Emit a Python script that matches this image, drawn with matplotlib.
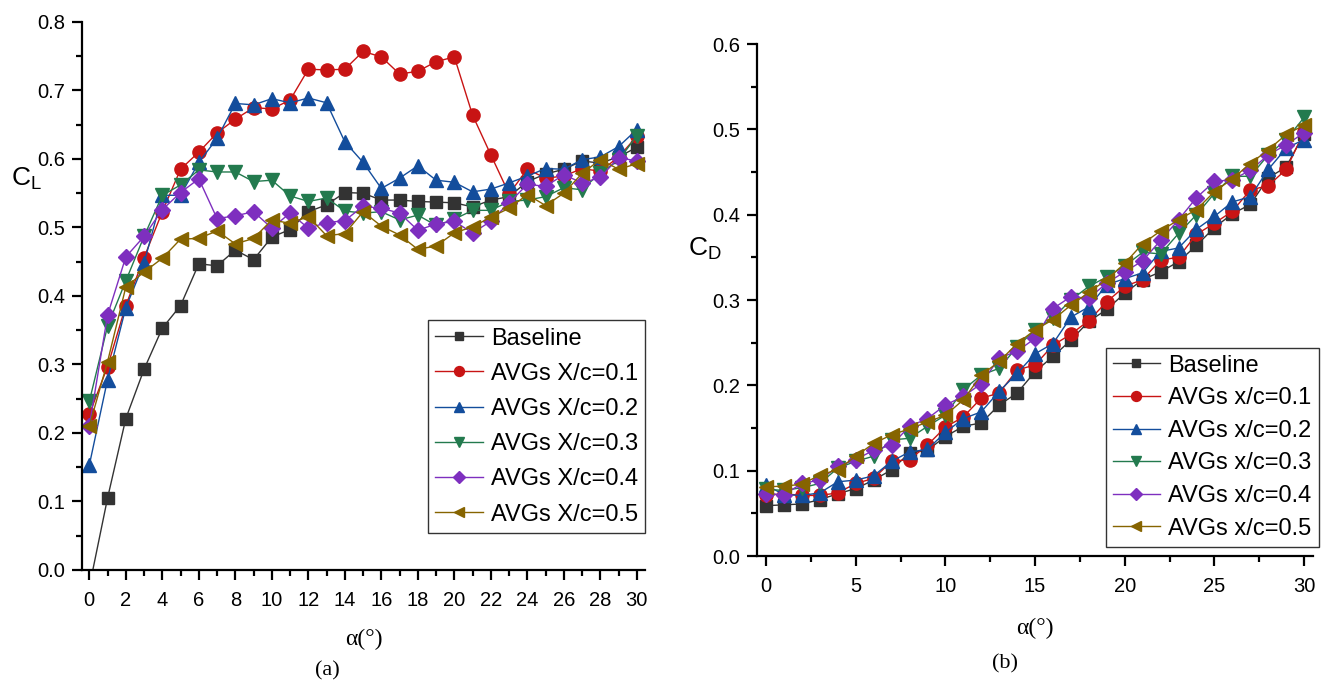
import matplotlib
matplotlib.use("Agg")
import matplotlib.pyplot as plt
from matplotlib.ticker import MultipleLocator

plt.rcParams['font.family'] = ['Liberation Sans', 'DejaVu Sans']
plt.rcParams['mathtext.fontset'] = 'custom'
plt.rcParams['mathtext.rm'] = 'Liberation Sans'
plt.rcParams['mathtext.it'] = 'Liberation Sans:italic'

# angle of attack, degrees
alpha = list(range(31))

# (a) lift coefficient
cl_base = [-0.025, 0.105, 0.221, 0.293, 0.353, 0.386, 0.447, 0.444, 0.467, 0.453,
           0.486, 0.497, 0.523, 0.533, 0.551, 0.550, 0.540, 0.540, 0.538, 0.537,
           0.536, 0.530, 0.540, 0.545, 0.567, 0.578, 0.585, 0.597, 0.594, 0.603, 0.617]
cl_01 = [0.227, 0.297, 0.386, 0.456, 0.523, 0.585, 0.610, 0.638, 0.658, 0.675,
         0.673, 0.686, 0.731, 0.730, 0.731, 0.757, 0.749, 0.724, 0.728, 0.742,
         0.749, 0.664, 0.606, 0.549, 0.585, 0.572, 0.575, 0.586, 0.582, 0.603, 0.633]
cl_02 = [0.153, 0.278, 0.383, 0.448, 0.547, 0.547, 0.595, 0.630, 0.681, 0.679,
         0.688, 0.682, 0.689, 0.682, 0.625, 0.595, 0.557, 0.572, 0.590, 0.569,
         0.566, 0.552, 0.556, 0.565, 0.575, 0.586, 0.585, 0.599, 0.603, 0.618, 0.643]
cl_03 = [0.246, 0.356, 0.422, 0.487, 0.547, 0.562, 0.584, 0.581, 0.581, 0.567,
         0.569, 0.546, 0.538, 0.543, 0.524, 0.521, 0.523, 0.511, 0.518, 0.503,
         0.512, 0.525, 0.525, 0.538, 0.540, 0.545, 0.558, 0.555, 0.580, 0.598, 0.634]
cl_04 = [0.210, 0.372, 0.457, 0.487, 0.526, 0.551, 0.571, 0.513, 0.517, 0.523,
         0.499, 0.521, 0.499, 0.507, 0.510, 0.531, 0.528, 0.521, 0.496, 0.505,
         0.509, 0.492, 0.509, 0.536, 0.563, 0.560, 0.577, 0.565, 0.573, 0.602, 0.597]
cl_05 = [0.210, 0.304, 0.413, 0.435, 0.455, 0.483, 0.484, 0.495, 0.476, 0.484,
         0.511, 0.506, 0.516, 0.488, 0.491, 0.523, 0.502, 0.489, 0.468, 0.473,
         0.492, 0.501, 0.515, 0.528, 0.548, 0.532, 0.550, 0.579, 0.599, 0.585, 0.593]

# (b) drag coefficient
cd_base = [0.059, 0.060, 0.061, 0.066, 0.073, 0.079, 0.089, 0.101, 0.121, 0.124,
           0.140, 0.152, 0.156, 0.177, 0.191, 0.216, 0.234, 0.253, 0.275, 0.289,
           0.308, 0.324, 0.333, 0.345, 0.364, 0.385, 0.401, 0.412, 0.443, 0.456, 0.495]
cd_01 = [0.071, 0.073, 0.071, 0.071, 0.074, 0.085, 0.091, 0.111, 0.113, 0.130,
         0.151, 0.163, 0.185, 0.191, 0.218, 0.224, 0.247, 0.260, 0.276, 0.298,
         0.316, 0.324, 0.347, 0.350, 0.377, 0.390, 0.404, 0.429, 0.434, 0.453, 0.497]
cd_02 = [0.083, 0.072, 0.071, 0.074, 0.087, 0.089, 0.094, 0.111, 0.122, 0.125,
         0.145, 0.161, 0.169, 0.193, 0.214, 0.237, 0.249, 0.280, 0.292, 0.318,
         0.325, 0.332, 0.357, 0.361, 0.383, 0.398, 0.415, 0.421, 0.453, 0.478, 0.488]
cd_03 = [0.078, 0.077, 0.080, 0.085, 0.103, 0.111, 0.117, 0.136, 0.138, 0.152,
         0.165, 0.195, 0.212, 0.220, 0.245, 0.265, 0.279, 0.300, 0.316, 0.327,
         0.340, 0.356, 0.354, 0.378, 0.400, 0.425, 0.445, 0.445, 0.470, 0.488, 0.514]
cd_04 = [0.073, 0.072, 0.085, 0.089, 0.105, 0.113, 0.124, 0.130, 0.152, 0.161,
         0.177, 0.187, 0.202, 0.232, 0.240, 0.255, 0.290, 0.304, 0.302, 0.320,
         0.333, 0.346, 0.370, 0.394, 0.420, 0.439, 0.441, 0.452, 0.470, 0.482, 0.496]
cd_05 = [0.081, 0.082, 0.084, 0.095, 0.101, 0.117, 0.132, 0.142, 0.149, 0.157,
         0.165, 0.183, 0.212, 0.228, 0.249, 0.265, 0.277, 0.294, 0.309, 0.324,
         0.343, 0.366, 0.381, 0.394, 0.406, 0.427, 0.442, 0.460, 0.476, 0.494, 0.505]

labels_a = ['Baseline', 'AVGs X/c=0.1', 'AVGs X/c=0.2', 'AVGs X/c=0.3',
            'AVGs X/c=0.4', 'AVGs X/c=0.5']
labels_b = ['Baseline', 'AVGs x/c=0.1', 'AVGs x/c=0.2', 'AVGs x/c=0.3',
            'AVGs x/c=0.4', 'AVGs x/c=0.5']

colors = ['#333333', '#c81414', '#134d9c', '#237a4e', '#7e2fbf', '#866400']
markers = ['s', 'o', '^', 'v', 'D', '<']
msizes = [8.5, 9.5, 10, 10, 8.5, 10]

fig = plt.figure(figsize=(13.27, 6.84), dpi=100)
ax1 = fig.add_axes([0.0618, 0.1667, 0.4243, 0.8012])
ax2 = fig.add_axes([0.5705, 0.1871, 0.4190, 0.7485])


def draw(ax, series, labels):
    for s, lab, c, m, ms in zip(series, labels, colors, markers, msizes):
        ax.plot(alpha, s, color=c, marker=m, markersize=ms, linewidth=1.0,
                markeredgecolor=c, label=lab)
    for side in ['top', 'right']:
        ax.spines[side].set_visible(False)
    for side in ['left', 'bottom']:
        ax.spines[side].set_linewidth(1.6)
    ax.tick_params(which='major', direction='out', length=7, width=1.6,
                   labelsize=14.5, pad=5)
    ax.tick_params(which='minor', direction='out', length=4, width=1.6)
    ax.tick_params(axis='x', which='major', pad=8)


def add_legend(ax, anchor, spacing):
    leg = ax.legend(loc='lower right', bbox_to_anchor=anchor, fontsize=17,
                    frameon=True, fancybox=False, edgecolor='black',
                    handlelength=2.0, labelspacing=spacing, borderpad=0.3,
                    handletextpad=0.35, borderaxespad=0, markerscale=0.75)
    leg.get_frame().set_linewidth(1.0)
    return leg


draw(ax1, [cl_base, cl_01, cl_02, cl_03, cl_04, cl_05], labels_a)
ax1.set_xlim(-0.4, 30.45)
ax1.set_ylim(0, 0.8)
ax1.xaxis.set_major_locator(MultipleLocator(2))
ax1.xaxis.set_minor_locator(MultipleLocator(1))
ax1.yaxis.set_major_locator(MultipleLocator(0.1))
ax1.yaxis.set_minor_locator(MultipleLocator(0.05))
ax1.yaxis.set_major_formatter(matplotlib.ticker.FormatStrFormatter('%.1f'))
ax1.set_ylabel(r'$\mathrm{C_L}$', fontsize=19, rotation=0)
ax1.yaxis.set_label_coords(-0.098, 0.69)
ax1.set_xlabel('α(°)', fontsize=17, family='Liberation Serif', labelpad=14)
add_legend(ax1, (1.0, 0.068), 0.56)

draw(ax2, [cd_base, cd_01, cd_02, cd_03, cd_04, cd_05], labels_b)
ax2.set_xlim(-0.5, 30.5)
ax2.set_ylim(0, 0.6)
ax2.xaxis.set_major_locator(MultipleLocator(5))
ax2.xaxis.set_minor_locator(MultipleLocator(2.5))
ax2.yaxis.set_major_locator(MultipleLocator(0.1))
ax2.yaxis.set_minor_locator(MultipleLocator(0.05))
ax2.yaxis.set_major_formatter(matplotlib.ticker.FormatStrFormatter('%.1f'))
ax2.set_ylabel(r'$\mathrm{C_D}$', fontsize=19, rotation=0)
ax2.yaxis.set_label_coords(-0.094, 0.575)
ax2.set_xlabel('α(°)', fontsize=17, family='Liberation Serif', labelpad=16)
add_legend(ax2, (1.01, 0.018), 0.45)

fig.text(0.2465, 0.012, '(a)', fontsize=16, family='Liberation Serif', ha='center')
fig.text(0.757, 0.022, '(b)', fontsize=16, family='Liberation Serif', ha='center')

fig.savefig('out.png', dpi=100)
